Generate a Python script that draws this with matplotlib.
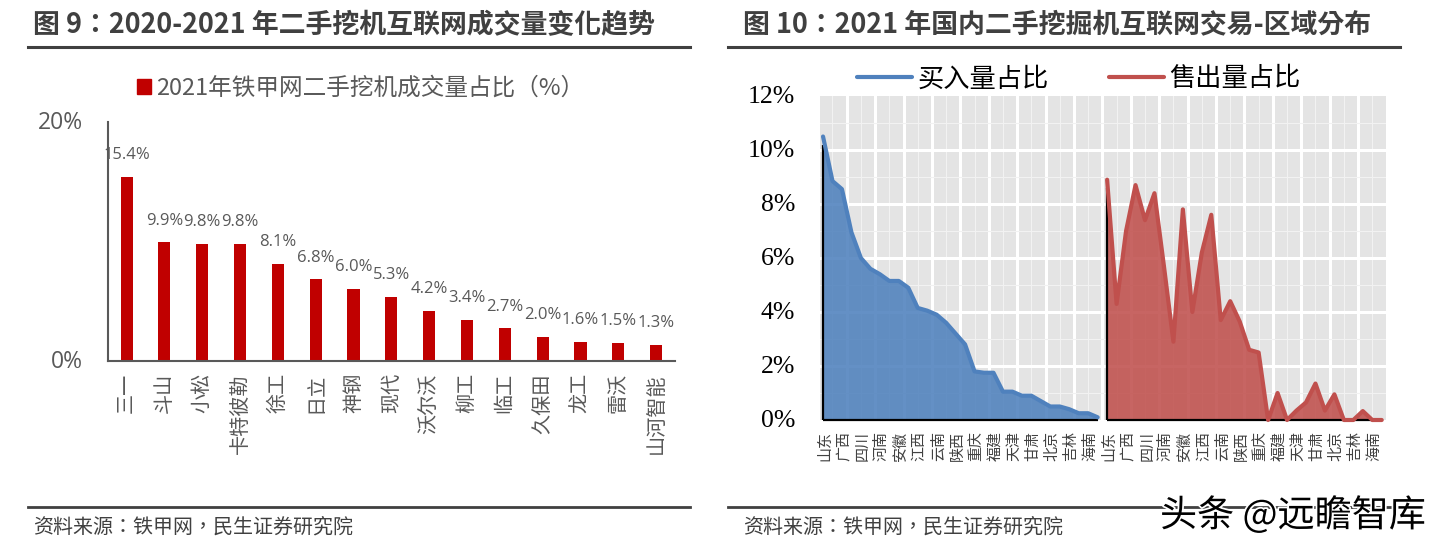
import matplotlib
matplotlib.use("Agg")
import matplotlib.pyplot as plt
import matplotlib.patheffects as pe
from matplotlib.lines import Line2D
from matplotlib.patches import Patch
from matplotlib.ticker import FixedLocator
from matplotlib.transforms import ScaledTranslation

WIDTH, HEIGHT = 1441, 548
CJK = ["Noto Sans CJK SC", "DejaVu Sans"]
# the TC cut centres the full-width colon and comma, like the source report
CJK_HEAD = ["Noto Sans CJK TC", "Noto Sans CJK SC", "DejaVu Sans"]
GREY_TEXT = "#595959"
DARK = "#404040"

brands = ["三一", "斗山", "小松", "卡特彼勒", "徐工", "日立", "神钢", "现代", "沃尔沃",
          "柳工", "临工", "久保田", "龙工", "雷沃", "山河智能"]
share = [15.4, 9.9, 9.8, 9.8, 8.1, 6.8, 6.0, 5.3, 4.2, 3.4, 2.7, 2.0, 1.6, 1.5, 1.3]

provinces = ["山东", "广西", "四川", "河南", "安徽", "江西", "云南", "陕西", "重庆",
             "福建", "天津", "甘肃", "北京", "吉林", "海南"]
buy_share = [10.5, 8.85, 8.55, 6.95, 6.0, 5.6, 5.4, 5.15, 5.15, 4.9,
             4.15, 4.05, 3.9, 3.6, 3.2, 2.8, 1.8, 1.75, 1.75, 1.05,
             1.05, 0.9, 0.9, 0.7, 0.5, 0.5, 0.4, 0.25, 0.25, 0.1]
sell_share = [8.9, 4.3, 7.0, 8.7, 7.4, 8.4, 5.7, 2.9, 7.8, 4.0,
              6.2, 7.6, 3.7, 4.4, 3.65, 2.6, 2.5, 0.0, 1.0, 0.0,
              0.35, 0.65, 1.35, 0.35, 0.95, 0.0, 0.0, 0.33, 0.0, 0.0]


def px_axes(fig, left, top, right, bottom):
    return fig.add_axes([left / WIDTH, 1 - bottom / HEIGHT,
                         (right - left) / WIDTH, (bottom - top) / HEIGHT])


def fig_text(fig, x, y, text, **kwargs):
    kwargs.setdefault("family", CJK_HEAD)
    kwargs.setdefault("va", "center")
    return fig.text(x / WIDTH, 1 - y / HEIGHT, text, **kwargs)


def rule(fig, x0, x1, y, lw):
    fig.add_artist(Line2D([x0 / WIDTH, x1 / WIDTH], [1 - y / HEIGHT] * 2, color=DARK, lw=lw))


def draw_bars(fig):
    ax = px_axes(fig, 107.7, 121.7, 675, 360.7)
    x = list(range(len(brands)))
    bars = ax.bar(x, share, width=0.32, color="#c00000")
    ax.set_xlim(-0.5, len(brands) - 0.5)
    ax.set_ylim(0, 20)
    ax.bar_label(bars, labels=[f"{v:.1f}%" for v in share], padding=10, fontsize=12,
                 color=GREY_TEXT, family="Open Sans")
    ax.set_xticks(x)
    ax.set_xticklabels(brands, rotation=90, family=CJK, fontsize=14.5, color=GREY_TEXT)
    ax.set_yticks([0, 20])
    ax.set_yticklabels(["0%", "20%"], family="Open Sans", fontsize=16.5, color=GREY_TEXT)
    ax.tick_params(length=0)
    ax.tick_params(axis="x", pad=9)
    ax.tick_params(axis="y", pad=18)
    up = ScaledTranslation(0, 1.5 / 72, fig.dpi_scale_trans)
    for label in ax.get_yticklabels():
        label.set_transform(label.get_transform() + up)
    for side in ("top", "right"):
        ax.spines[side].set_visible(False)
    for side in ("left", "bottom"):
        ax.spines[side].set_color(GREY_TEXT)
        ax.spines[side].set_linewidth(1.5)
    fig.legend(handles=[Patch(color="#c00000", label="2021年铁甲网二手挖机成交量占比（%）")],
               loc="center left", bbox_to_anchor=(137 / WIDTH, 1 - 88 / HEIGHT), frameon=False,
               prop={"family": CJK, "size": 17}, labelcolor=GREY_TEXT,
               handlelength=0.6, handleheight=0.6, handletextpad=0.2, borderpad=0, borderaxespad=0)


def draw_area(fig):
    ax = px_axes(fig, 820, 96, 1386, 420)
    ax.set_facecolor("#e4e4e4")
    buy_x = list(range(len(buy_share)))
    sell_x = [i + len(buy_share) for i in range(len(sell_share))]

    ax.fill_between(buy_x, buy_share, 0, color="#4f81bd", alpha=0.88, lw=0, zorder=3)
    ax.fill_between(sell_x, sell_share, 0, color="#c0504d", alpha=0.88, lw=0, zorder=3)
    ax.plot(buy_x, buy_share, color="#4f81bd", lw=3, solid_capstyle="round", zorder=4, clip_on=False)
    ax.plot(sell_x, sell_share, color="#c0504d", lw=3, solid_capstyle="round", zorder=4, clip_on=False)

    # black baselines and left edge of each area
    for xs, ys in ((buy_x, buy_share), (sell_x, sell_share)):
        ax.vlines(xs[0], 0, ys[0] - 0.3, color="black", lw=1.6, zorder=3.5)
        ax.hlines(0, xs[0], xs[-1], color="black", lw=1.6, zorder=3.5, clip_on=False)

    ax.set_xlim(-0.32, 59.45)
    ax.set_ylim(0, 12)
    ax.xaxis.set_major_locator(FixedLocator([2.5 + 3 * i for i in range(19)]))
    ax.xaxis.set_minor_locator(FixedLocator([1 + 3 * i for i in range(20)]))
    ax.yaxis.set_major_locator(FixedLocator([2, 4, 6, 8, 10]))
    ax.yaxis.set_minor_locator(FixedLocator([1, 3, 5, 7, 9, 11]))
    ax.grid(which="major", color="white", lw=2.2, zorder=1)
    ax.grid(which="minor", color="#f2f2f2", lw=0.8, zorder=1)
    ax.set_axisbelow(True)
    ax.tick_params(which="both", length=0, labelbottom=False, labelleft=False)
    for spine in ax.spines.values():
        spine.set_visible(False)

    for pct in range(0, 13, 2):
        ax.annotate(f"{pct}%", (0, pct), xycoords=("axes fraction", "data"), xytext=(-18, -1),
                    textcoords="offset points", ha="right", va="center",
                    family="Liberation Serif", fontsize=18.5, color="black")
    for i, name in enumerate(provinces + provinces):
        ax.annotate(name, (2 * i, 0), xycoords=("data", "axes fraction"), xytext=(1.5, -8),
                    textcoords="offset points", ha="center", va="top", rotation=90,
                    family=CJK, fontsize=10.8, color=DARK)

    handles = [Line2D([], [], color="#4f81bd", lw=3, solid_capstyle="round", label="买入量占比"),
               Line2D([], [], color="#c0504d", lw=3, solid_capstyle="round", label="售出量占比")]
    fig.legend(handles=handles, loc="center left", bbox_to_anchor=(857 / WIDTH, 1 - 79 / HEIGHT),
               ncol=2, frameon=False, prop={"family": CJK, "size": 18.9},
               handlelength=2.1, handletextpad=0.2, columnspacing=2.3, borderpad=0, borderaxespad=0)


def main():
    fig = plt.figure(figsize=(WIDTH / 100, HEIGHT / 100), dpi=100)

    fig_text(fig, 33, 25, "图 9：2020-2021 年二手挖机互联网成交量变化趋势",
             fontsize=19.4, fontweight="bold", color=DARK)
    fig_text(fig, 743, 25, "图 10：2021 年国内二手挖掘机互联网交易-区域分布",
             fontsize=19.4, fontweight="bold", color=DARK)
    rule(fig, 28, 690, 47, 2.2)
    rule(fig, 728, 1400, 47, 2.2)
    rule(fig, 28, 690, 507, 2.0)
    rule(fig, 728, 1400, 507, 2.0)
    fig_text(fig, 33, 527, "资料来源：铁甲网，民生证券研究院", fontsize=14.4, color=DARK)
    fig_text(fig, 743, 527, "资料来源：铁甲网，民生证券研究院", fontsize=14.4, color=DARK)

    draw_bars(fig)
    draw_area(fig)

    mark = fig_text(fig, 1160, 516, "头条 @远瞻智库", fontsize=26.7, family=CJK, color="black", zorder=10)
    mark.set_path_effects([pe.withStroke(linewidth=2.5, foreground="white")])

    fig.savefig("out.png", dpi=100)
    plt.close(fig)


if __name__ == "__main__":
    main()
